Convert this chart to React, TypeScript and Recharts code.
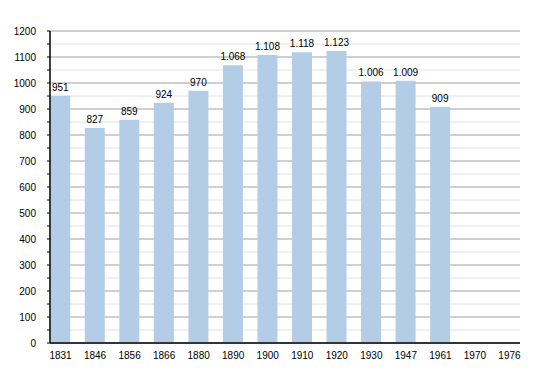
import React from "react";
import { BarChart, Bar, XAxis, YAxis, CartesianGrid, LabelList } from "recharts";

const years = ["1831", "1846", "1856", "1866", "1880", "1890", "1900", "1910", "1920", "1930", "1947", "1961", "1970", "1976"];
const population: (number | null)[] = [951, 827, 859, 924, 970, 1068, 1108, 1118, 1123, 1006, 1009, 909, null, null];
const yTicks = [0, 50, 100, 150, 200, 250, 300, 350, 400, 450, 500, 550, 600, 650, 700, 750, 800, 850, 900, 950, 1000, 1050, 1100, 1150, 1200];

const data = years.map((y, i) => ({ year: y, pop: population[i] }));
const majorTicks = yTicks.filter((t) => t % 100 === 0);
const minorTicks = yTicks.filter((t) => t % 100 !== 0);

const fmt = (v: any) => {
  if (v === null || v === undefined) return "";
  const n = Number(v);
  if (n >= 1000) {
    const s = String(n);
    return s.slice(0, s.length - 3) + "." + s.slice(s.length - 3);
  }
  return String(n);
};

const FONT = "'Liberation Sans', Arial, sans-serif";

const YTick = (props: any) => {
  const { x, y, payload } = props;
  if (payload.value % 100 !== 0) return null;
  return (
    <text x={x - 9} y={y} dy={3.5} textAnchor="end" fontSize={10} fontFamily={FONT} fill="#000">
      {payload.value}
    </text>
  );
};

export default function App() {
  return (
    <div style={{ position: "absolute", left: 0, top: 0, background: "#fff" }}>
      <BarChart width={550} height={373} data={data} margin={{ top: 31, right: 30, left: 0, bottom: 0 }}>
        <CartesianGrid vertical={false} horizontalValues={minorTicks} stroke="#e2e2e2" />
        <CartesianGrid vertical={false} horizontalValues={majorTicks} stroke="#a0a0a0" />
        <XAxis
          dataKey="year"
          padding={{ left: -6.75, right: -6.75 }}
          axisLine={{ stroke: "#000", strokeWidth: 1.5 }}
          tickLine={false}
          tick={{ fontSize: 10, fontFamily: FONT, fill: "#000" }}
          height={30}
          tickMargin={3}
          interval={0}
        />
        <YAxis
          type="number"
          domain={[0, 1200]}
          ticks={yTicks}
          interval={0}
          width={50}
          axisLine={{ stroke: "#000", strokeWidth: 1.5 }}
          tickLine={{ stroke: "#000" }}
          tickSize={3}
          tick={<YTick />}
        />
        <Bar dataKey="pop" fill="#b3cde6" barSize={20} isAnimationActive={false}>
          <LabelList dataKey="pop" position="top" offset={5} formatter={fmt} style={{ fontSize: 10, fontFamily: FONT, fill: "#000" }} />
        </Bar>
      </BarChart>
    </div>
  );
}
